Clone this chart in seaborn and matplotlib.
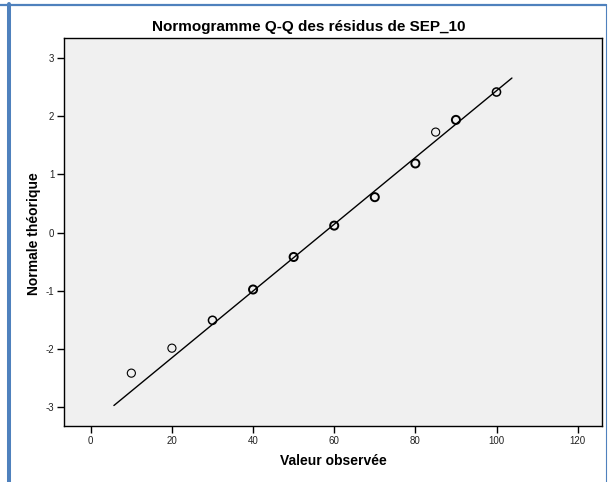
import matplotlib
matplotlib.use("Agg")
import matplotlib.pyplot as plt
from matplotlib.lines import Line2D
import numpy as np
import pandas as pd
import seaborn as sns

# ---- data ----
observed = [10, 20, 30, 40, 50, 60, 70, 80, 85, 90, 100]
expected_normal = [-2.42, -1.99, -1.51, -0.98, -0.42, 0.12, 0.61, 1.19, 1.73, 1.94, 2.42]
counts = [1, 1, 2, 3, 3, 3, 3, 3, 1, 3, 2]
ref_mean = 57.5
ref_sd = 17.4
line_range = [5.7, 103.8]
x_ticks = [0, 20, 40, 60, 80, 100, 120]
y_ticks = [-3, -2, -1, 0, 1, 2, 3]
title = "Normogramme Q-Q des résidus de SEP_10"
xlabel = "Valeur observée"
ylabel = "Normale théorique"

sns.set_theme(style="white")
plt.rcParams['font.family'] = ['Liberation Sans', 'DejaVu Sans']

fig = plt.figure(figsize=(6.09, 4.82), dpi=100)
fig.patch.set_facecolor("white")
ax = fig.add_axes([64/609, 1-426/482, (602-64)/609, (426-38)/482])
ax.set_facecolor("#f0f0f0")

df = pd.DataFrame({"obs": observed, "exp": expected_normal, "n": counts})
lx = np.array(line_range)
ly = (lx - ref_mean) / ref_sd
sns.lineplot(x=lx, y=ly, ax=ax, color="black", linewidth=1.0)
for n_val, sub in df.groupby("n"):
    lw = 0.8 if n_val == 1 else (1.1 if n_val == 2 else 1.4)
    sns.scatterplot(data=sub, x="obs", y="exp", ax=ax, marker="o", s=34,
                    facecolor="none", edgecolor="black", linewidth=lw, zorder=3)

ax.set_xlim(-6.6, 126.0)
ax.set_ylim(-3.33, 3.35)
ax.set_xticks(x_ticks)
ax.set_yticks(y_ticks)
ax.set_xticklabels([str(t) for t in x_ticks])
ax.set_yticklabels([str(t) for t in y_ticks])
ax.tick_params(axis="both", which="both", direction="out", length=5, width=1,
               color="black", labelsize=7, labelcolor="#222222", pad=2,
               bottom=True, left=True, top=False, right=False)
for s in ax.spines.values():
    s.set_color("black")
    s.set_linewidth(1.0)
ax.set_xlabel("")
ax.set_ylabel("")

fig.text(309/609, 1-27.5/482, title, ha="center", va="center",
         fontsize=11, fontweight="bold", color="black")
fig.text(333/609, 1-461/482, xlabel, ha="center", va="center",
         fontsize=10, fontweight="bold", color="black")
fig.text(34/609, 1-233.5/482, ylabel, ha="center", va="center", rotation=90,
         fontsize=10, fontweight="bold", color="black")

# blue frame
blue = "#4f81bd"
fig.add_artist(Line2D([0, 606/609], [1-5/482, 1-5/482], color=blue, linewidth=1.6,
                      transform=fig.transFigure))
fig.add_artist(Line2D([9/609, 9/609], [0, 1-4/482], color=blue, linewidth=2.9,
                      transform=fig.transFigure))
fig.add_artist(Line2D([605.5/609, 605.5/609], [0, 1-4/482], color=blue, linewidth=0.8,
                      transform=fig.transFigure))

fig.savefig("out.png", dpi=100, facecolor="white")
